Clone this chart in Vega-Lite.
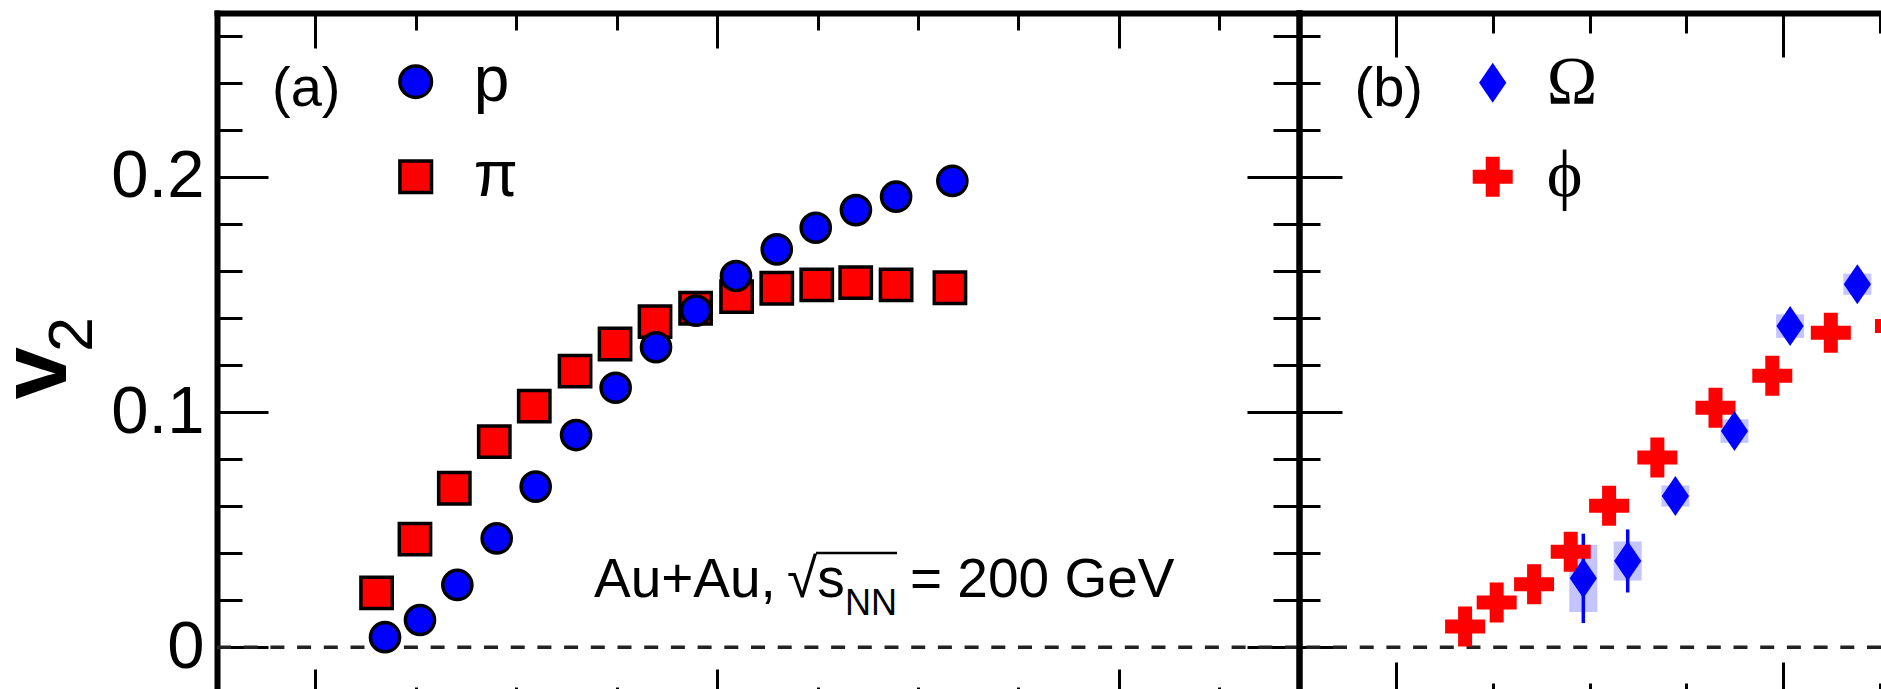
{
  "$schema": "https://vega.github.io/schema/vega-lite/v6.json",
  "autosize": {"type": "none"},
  "padding": {"left": 217, "top": 13, "right": 1664, "bottom": 676},
  "background": "white",
  "spacing": 0,
  "bounds": "flush",
  "config": {"view": {"stroke": null}, "axis": {"grid": false}},
  "datasets": {
    "proton": [
      {"species": "p", "pT": 0.347, "v2": 0.0043},
      {"species": "p", "pT": 0.521, "v2": 0.0116},
      {"species": "p", "pT": 0.707, "v2": 0.0265},
      {"species": "p", "pT": 0.903, "v2": 0.0463},
      {"species": "p", "pT": 1.097, "v2": 0.0683},
      {"species": "p", "pT": 1.298, "v2": 0.0902},
      {"species": "p", "pT": 1.495, "v2": 0.1103},
      {"species": "p", "pT": 1.696, "v2": 0.1275},
      {"species": "p", "pT": 1.895, "v2": 0.1431},
      {"species": "p", "pT": 2.094, "v2": 0.1578},
      {"species": "p", "pT": 2.297, "v2": 0.1691},
      {"species": "p", "pT": 2.491, "v2": 0.1783},
      {"species": "p", "pT": 2.691, "v2": 0.1858},
      {"species": "p", "pT": 2.891, "v2": 0.1915},
      {"species": "p", "pT": 3.171, "v2": 0.1982}
    ],
    "pion": [
      {"species": "π", "pT": 0.305, "v2": 0.0231},
      {"species": "π", "pT": 0.496, "v2": 0.046},
      {"species": "π", "pT": 0.692, "v2": 0.0676},
      {"species": "π", "pT": 0.891, "v2": 0.0874},
      {"species": "π", "pT": 1.09, "v2": 0.1025},
      {"species": "π", "pT": 1.293, "v2": 0.1174},
      {"species": "π", "pT": 1.492, "v2": 0.1289},
      {"species": "π", "pT": 1.691, "v2": 0.1384},
      {"species": "π", "pT": 1.893, "v2": 0.1441},
      {"species": "π", "pT": 2.097, "v2": 0.149},
      {"species": "π", "pT": 2.297, "v2": 0.1526},
      {"species": "π", "pT": 2.496, "v2": 0.154},
      {"species": "π", "pT": 2.69, "v2": 0.155},
      {"species": "π", "pT": 2.891, "v2": 0.154},
      {"species": "π", "pT": 3.159, "v2": 0.1528}
    ],
    "phi": [
      {"species": "ϕ", "pT": 0.358, "v2": 0.0088},
      {"species": "ϕ", "pT": 0.521, "v2": 0.019},
      {"species": "ϕ", "pT": 0.714, "v2": 0.0268},
      {"species": "ϕ", "pT": 0.903, "v2": 0.0406},
      {"species": "ϕ", "pT": 1.101, "v2": 0.0602},
      {"species": "ϕ", "pT": 1.35, "v2": 0.0807},
      {"species": "ϕ", "pT": 1.65, "v2": 0.1018},
      {"species": "ϕ", "pT": 1.943, "v2": 0.1154},
      {"species": "ϕ", "pT": 2.245, "v2": 0.1337},
      {"species": "ϕ", "pT": 2.576, "v2": 0.1365}
    ],
    "omega": [
      {"species": "Ω", "pT": 0.968, "v2": 0.0293, "statLo": 0.0103, "statHi": 0.0483, "sysLo": 0.015, "sysHi": 0.0436},
      {"species": "Ω", "pT": 1.197, "v2": 0.0367, "statLo": 0.0233, "statHi": 0.0501, "sysLo": 0.0284, "sysHi": 0.045},
      {"species": "Ω", "pT": 1.443, "v2": 0.0643, "statLo": 0.0603, "statHi": 0.0683, "sysLo": 0.0598, "sysHi": 0.0688},
      {"species": "Ω", "pT": 1.748, "v2": 0.0919, "statLo": 0.0879, "statHi": 0.0959, "sysLo": 0.0869, "sysHi": 0.0969},
      {"species": "Ω", "pT": 2.035, "v2": 0.1365, "statLo": 0.1325, "statHi": 0.1405, "sysLo": 0.1315, "sysHi": 0.1415},
      {"species": "Ω", "pT": 2.382, "v2": 0.1543, "statLo": 0.1503, "statHi": 0.1583, "sysLo": 0.1498, "sysHi": 0.1588}
    ]
  },
  "resolve": {
    "scale": {"x": "independent", "y": "independent", "color": "independent", "shape": "independent"},
    "axis": {"x": "independent", "y": "independent"},
    "legend": {"color": "independent", "shape": "independent"}
  },
  "hconcat": [
    {
      "width": 1082,
      "height": 676,
      "data": {"values": [{}]},
      "resolve": {"axis": {"x": "independent", "y": "independent"}},
      "layer": [
        {
          "mark": {"type": "rule", "color": "#222222", "strokeWidth": 3.5, "strokeDash": [14, 12.7]},
          "encoding": {
            "y": {"datum": 0, "type": "quantitative", "scale": {"domain": [-0.01772, 0.26957], "nice": false, "zero": false}, "axis": null}
          }
        },
        {
          "data": {"name": "pion"},
          "mark": {"type": "point", "filled": true, "opacity": 1, "stroke": "black", "strokeWidth": 3.5, "size": 980},
          "encoding": {
            "x": {"field": "pT", "type": "quantitative", "scale": {"domain": [-0.4893, 4.8965], "nice": false, "zero": false},
              "axis": {"orient": "top", "values": [0, 0.5, 1, 1.5, 2, 2.5, 3, 3.5, 4, 4.5], "labels": false, "title": null, "grid": false,
                "domain": true, "domainColor": "black", "domainWidth": 6, "domainCap": "square",
                "ticks": true, "tickColor": "black", "tickWidth": 3,
                "tickSize": {"condition": {"test": "abs(datum.value/2 - round(datum.value/2)) < 0.001", "value": -35}, "value": -17}}},
            "y": {"field": "v2", "type": "quantitative", "scale": {"domain": [-0.01772, 0.26957], "nice": false, "zero": false},
              "axis": {"orient": "left", "values": [0, 0.02, 0.04, 0.06, 0.08, 0.1, 0.12, 0.14, 0.16, 0.18, 0.2, 0.22, 0.24, 0.26], "grid": false,
                "domain": true, "domainColor": "black", "domainWidth": 6, "domainCap": "square",
                "ticks": true, "tickColor": "black", "tickWidth": 3,
                "tickSize": {"condition": {"test": "abs(datum.value*10 - round(datum.value*10)) < 0.001", "value": -51}, "value": -25},
                "labelExpr": "abs(datum.value*10 - round(datum.value*10)) < 0.001 ? format(datum.value, '.1~f') : ''",
                "labelFont": "Liberation Sans", "labelFontSize": 67, "labelColor": "black", "labelPadding": 64,
                "labelOverlap": false, "labelAlign": "right", "labelBaseline": "middle",
                "title": "v", "titleFont": "Liberation Sans", "titleFontSize": 94, "titleFontWeight": "bold", "titleColor": "black",
                "titleAngle": 270, "titleX": -152, "titleY": 359.5, "titleAlign": "center", "titleBaseline": "alphabetic"}},
            "color": {"field": "species", "type": "nominal", "scale": {"domain": ["p", "π"], "range": ["#0000ff", "#ff0000"]},
              "legend": {"orient": "none", "legendX": 166.7, "legendY": 36.7, "title": null, "padding": 0, "direction": "vertical",
                "symbolSize": 1000, "symbolStrokeWidth": 3.5, "symbolStrokeColor": "black", "symbolOffset": 0,
                "labelFont": "Liberation Sans", "labelFontSize": 64, "labelColor": "black", "labelOffset": 26, "rowPadding": 31}},
            "shape": {"field": "species", "type": "nominal", "scale": {"domain": ["p", "π"], "range": ["circle", "square"]},
              "legend": {"orient": "none", "legendX": 166.7, "legendY": 36.7, "title": null, "padding": 0, "direction": "vertical",
                "symbolSize": 1000, "symbolStrokeWidth": 3.5, "symbolStrokeColor": "black", "symbolOffset": 0,
                "labelFont": "Liberation Sans", "labelFontSize": 64, "labelColor": "black", "labelOffset": 26, "rowPadding": 31}}
          }
        },
        {
          "data": {"name": "proton"},
          "mark": {"type": "point", "filled": true, "opacity": 1, "stroke": "black", "strokeWidth": 3.5, "size": 850},
          "encoding": {
            "x": {"field": "pT", "type": "quantitative", "scale": {"domain": [-0.4893, 4.8965], "nice": false, "zero": false},
              "axis": {"orient": "bottom", "values": [0, 0.5, 1, 1.5, 2, 2.5, 3, 3.5, 4, 4.5], "labels": false, "title": null, "grid": false,
                "domain": false, "ticks": true, "tickColor": "black", "tickWidth": 3,
                "tickSize": {"condition": {"test": "abs(datum.value/2 - round(datum.value/2)) < 0.001", "value": -20}, "value": -2}}},
            "y": {"field": "v2", "type": "quantitative", "scale": {"domain": [-0.01772, 0.26957], "nice": false, "zero": false},
              "axis": {"orient": "right", "values": [0, 0.02, 0.04, 0.06, 0.08, 0.1, 0.12, 0.14, 0.16, 0.18, 0.2, 0.22, 0.24, 0.26], "labels": false, "title": null, "grid": false,
                "domain": true, "domainColor": "black", "domainWidth": 6, "domainCap": "square",
                "ticks": true, "tickColor": "black", "tickWidth": 3,
                "tickSize": {"condition": {"test": "abs(datum.value*10 - round(datum.value*10)) < 0.001", "value": -52}, "value": -26}}},
            "color": {"field": "species", "type": "nominal", "scale": {"domain": ["p", "π"], "range": ["#0000ff", "#ff0000"]},
              "legend": {"orient": "none", "legendX": 166.7, "legendY": 36.7, "title": null, "padding": 0, "direction": "vertical",
                "symbolSize": 1000, "symbolStrokeWidth": 3.5, "symbolStrokeColor": "black", "symbolOffset": 0,
                "labelFont": "Liberation Sans", "labelFontSize": 64, "labelColor": "black", "labelOffset": 26, "rowPadding": 31}},
            "shape": {"field": "species", "type": "nominal", "scale": {"domain": ["p", "π"], "range": ["circle", "square"]},
              "legend": {"orient": "none", "legendX": 166.7, "legendY": 36.7, "title": null, "padding": 0, "direction": "vertical",
                "symbolSize": 1000, "symbolStrokeWidth": 3.5, "symbolStrokeColor": "black", "symbolOffset": 0,
                "labelFont": "Liberation Sans", "labelFontSize": 64, "labelColor": "black", "labelOffset": 26, "rowPadding": 31}}
          }
        },
        {
          "mark": {"type": "text", "text": "2", "font": "Liberation Sans", "fontSize": 63, "angle": 270, "align": "center", "baseline": "alphabetic", "color": "black"},
          "encoding": {
            "x": {"datum": -1.113, "type": "quantitative", "scale": {"domain": [-0.4893, 4.8965], "nice": false, "zero": false}, "axis": null},
            "y": {"datum": 0.1329, "type": "quantitative", "scale": {"domain": [-0.01772, 0.26957], "nice": false, "zero": false}, "axis": null}
          }
        },
        {
          "mark": {"type": "text", "text": "(a)", "font": "Liberation Sans", "fontSize": 56, "align": "left", "baseline": "alphabetic", "color": "black"},
          "encoding": {
            "x": {"datum": -0.2155, "type": "quantitative", "scale": {"domain": [-0.4893, 4.8965], "nice": false, "zero": false}, "axis": null},
            "y": {"datum": 0.23, "type": "quantitative", "scale": {"domain": [-0.01772, 0.26957], "nice": false, "zero": false}, "axis": null}
          }
        },
        {
          "mark": {"type": "text", "text": "Au+Au,", "font": "Liberation Sans", "fontSize": 55, "align": "left", "baseline": "alphabetic", "color": "black"},
          "encoding": {
            "x": {"datum": 1.387, "type": "quantitative", "scale": {"domain": [-0.4893, 4.8965], "nice": false, "zero": false}, "axis": null},
            "y": {"datum": 0.02125, "type": "quantitative", "scale": {"domain": [-0.01772, 0.26957], "nice": false, "zero": false}, "axis": null}
          }
        },
        {
          "mark": {"type": "text", "text": "√s", "font": "Liberation Sans", "fontSize": 55, "align": "left", "baseline": "alphabetic", "color": "black", "dx": 193},
          "encoding": {
            "x": {"datum": 1.387, "type": "quantitative", "scale": {"domain": [-0.4893, 4.8965], "nice": false, "zero": false}, "axis": null},
            "y": {"datum": 0.02125, "type": "quantitative", "scale": {"domain": [-0.01772, 0.26957], "nice": false, "zero": false}, "axis": null}
          }
        },
        {
          "mark": {"type": "text", "text": "NN", "font": "Liberation Sans", "fontSize": 36, "align": "left", "baseline": "alphabetic", "color": "black", "dx": 251, "dy": 18},
          "encoding": {
            "x": {"datum": 1.387, "type": "quantitative", "scale": {"domain": [-0.4893, 4.8965], "nice": false, "zero": false}, "axis": null},
            "y": {"datum": 0.02125, "type": "quantitative", "scale": {"domain": [-0.01772, 0.26957], "nice": false, "zero": false}, "axis": null}
          }
        },
        {
          "mark": {"type": "text", "text": "= 200 GeV", "font": "Liberation Sans", "fontSize": 55, "align": "left", "baseline": "alphabetic", "color": "black", "dx": 316},
          "encoding": {
            "x": {"datum": 1.387, "type": "quantitative", "scale": {"domain": [-0.4893, 4.8965], "nice": false, "zero": false}, "axis": null},
            "y": {"datum": 0.02125, "type": "quantitative", "scale": {"domain": [-0.01772, 0.26957], "nice": false, "zero": false}, "axis": null}
          }
        },
        {
          "mark": {"type": "rule", "color": "black", "strokeWidth": 2.5},
          "encoding": {
            "x": {"datum": 2.4924, "type": "quantitative", "scale": {"domain": [-0.4893, 4.8965], "nice": false, "zero": false}, "axis": null},
            "x2": {"datum": 2.8956},
            "y": {"datum": 0.04008, "type": "quantitative", "scale": {"domain": [-0.01772, 0.26957], "nice": false, "zero": false}, "axis": null}
          }
        }
      ]
    },
    {
      "width": 582,
      "height": 676,
      "data": {"values": [{}]},
      "resolve": {"axis": {"x": "independent", "y": "independent"}},
      "layer": [
        {
          "mark": {"type": "rule", "color": "#222222", "strokeWidth": 3.5, "strokeDash": [14, 12.7]},
          "encoding": {
            "y": {"datum": 0, "type": "quantitative", "scale": {"domain": [-0.01772, 0.26957], "nice": false, "zero": false}, "axis": null}
          }
        },
        {
          "data": {"name": "omega"},
          "mark": {"type": "rect", "width": 28, "color": "#c4c4ff", "clip": true},
          "encoding": {
            "x": {"field": "pT", "type": "quantitative", "scale": {"domain": [-0.499, 2.504], "nice": false, "zero": false}, "axis": null},
            "y": {"field": "sysLo", "type": "quantitative", "scale": {"domain": [-0.01772, 0.26957], "nice": false, "zero": false}, "axis": null},
            "y2": {"field": "sysHi"}
          }
        },
        {
          "data": {"name": "omega"},
          "mark": {"type": "rule", "color": "#0000ff", "strokeWidth": 3.5, "clip": true},
          "encoding": {
            "x": {"field": "pT", "type": "quantitative", "scale": {"domain": [-0.499, 2.504], "nice": false, "zero": false}, "axis": null},
            "y": {"field": "statLo", "type": "quantitative", "scale": {"domain": [-0.01772, 0.26957], "nice": false, "zero": false}, "axis": null},
            "y2": {"field": "statHi"}
          }
        },
        {
          "data": {"name": "phi"},
          "mark": {"type": "point", "filled": true, "opacity": 1, "strokeWidth": 0, "size": 1600, "clip": true},
          "encoding": {
            "x": {"field": "pT", "type": "quantitative", "scale": {"domain": [-0.499, 2.504], "nice": false, "zero": false},
              "axis": {"orient": "bottom", "values": [0, 0.5, 1, 1.5, 2, 2.5], "labels": false, "title": null, "grid": false,
                "domain": false, "ticks": true, "tickColor": "black", "tickWidth": 3,
                "tickSize": {"condition": {"test": "abs(datum.value/2 - round(datum.value/2)) < 0.001", "value": -27}, "value": -6}}},
            "y": {"field": "v2", "type": "quantitative", "scale": {"domain": [-0.01772, 0.26957], "nice": false, "zero": false}, "axis": null},
            "color": {"field": "species", "type": "nominal", "scale": {"domain": ["Ω", "ϕ"], "range": ["#0000ff", "#ff0000"]},
              "legend": {"orient": "none", "legendX": 159.7, "legendY": 35.7, "title": null, "padding": 0, "direction": "vertical",
                "symbolSize": 1600, "symbolStrokeWidth": 0, "symbolOffset": 0,
                "labelFont": "Liberation Serif, DejaVu Serif", "labelFontSize": 68, "labelColor": "black", "labelOffset": 20, "rowPadding": 26}},
            "shape": {"field": "species", "type": "nominal", "scale": {"domain": ["Ω", "ϕ"], "range": ["M0,-1L0.68,0L0,1L-0.68,0Z", "M-1,-0.35H-0.35V-1H0.35V-0.35H1V0.35H0.35V1H-0.35V0.35H-1Z"]},
              "legend": {"orient": "none", "legendX": 159.7, "legendY": 35.7, "title": null, "padding": 0, "direction": "vertical",
                "symbolSize": 1600, "symbolStrokeWidth": 0, "symbolOffset": 0,
                "labelFont": "Liberation Serif, DejaVu Serif", "labelFontSize": 68, "labelColor": "black", "labelOffset": 20, "rowPadding": 26}}
          }
        },
        {
          "data": {"name": "omega"},
          "mark": {"type": "point", "filled": true, "opacity": 1, "strokeWidth": 0, "size": 1600, "clip": true},
          "encoding": {
            "x": {"field": "pT", "type": "quantitative", "scale": {"domain": [-0.499, 2.504], "nice": false, "zero": false},
              "axis": {"orient": "top", "values": [0, 0.5, 1, 1.5, 2, 2.5], "labels": false, "title": null, "grid": false,
                "domain": true, "domainColor": "black", "domainWidth": 6, "domainCap": "square",
                "ticks": true, "tickColor": "black", "tickWidth": 3,
                "tickSize": {"condition": {"test": "abs(datum.value/2 - round(datum.value/2)) < 0.001", "value": -44}, "value": -20}}},
            "y": {"field": "v2", "type": "quantitative", "scale": {"domain": [-0.01772, 0.26957], "nice": false, "zero": false},
              "axis": {"orient": "left", "values": [0, 0.02, 0.04, 0.06, 0.08, 0.1, 0.12, 0.14, 0.16, 0.18, 0.2, 0.22, 0.24, 0.26], "labels": false, "title": null, "grid": false,
                "domain": true, "domainColor": "black", "domainWidth": 6, "domainCap": "square",
                "ticks": true, "tickColor": "black", "tickWidth": 3,
                "tickSize": {"condition": {"test": "abs(datum.value*10 - round(datum.value*10)) < 0.001", "value": -43}, "value": -21}}},
            "color": {"field": "species", "type": "nominal", "scale": {"domain": ["Ω", "ϕ"], "range": ["#0000ff", "#ff0000"]},
              "legend": {"orient": "none", "legendX": 159.7, "legendY": 35.7, "title": null, "padding": 0, "direction": "vertical",
                "symbolSize": 1600, "symbolStrokeWidth": 0, "symbolOffset": 0,
                "labelFont": "Liberation Serif, DejaVu Serif", "labelFontSize": 68, "labelColor": "black", "labelOffset": 20, "rowPadding": 26}},
            "shape": {"field": "species", "type": "nominal", "scale": {"domain": ["Ω", "ϕ"], "range": ["M0,-1L0.68,0L0,1L-0.68,0Z", "M-1,-0.35H-0.35V-1H0.35V-0.35H1V0.35H0.35V1H-0.35V0.35H-1Z"]},
              "legend": {"orient": "none", "legendX": 159.7, "legendY": 35.7, "title": null, "padding": 0, "direction": "vertical",
                "symbolSize": 1600, "symbolStrokeWidth": 0, "symbolOffset": 0,
                "labelFont": "Liberation Serif, DejaVu Serif", "labelFontSize": 68, "labelColor": "black", "labelOffset": 20, "rowPadding": 26}}
          }
        },
        {
          "mark": {"type": "text", "text": "(b)", "font": "Liberation Sans", "fontSize": 56, "align": "left", "baseline": "alphabetic", "color": "black"},
          "encoding": {
            "x": {"datum": -0.2125, "type": "quantitative", "scale": {"domain": [-0.499, 2.504], "nice": false, "zero": false}, "axis": null},
            "y": {"datum": 0.23, "type": "quantitative", "scale": {"domain": [-0.01772, 0.26957], "nice": false, "zero": false}, "axis": null}
          }
        }
      ]
    }
  ]
}
